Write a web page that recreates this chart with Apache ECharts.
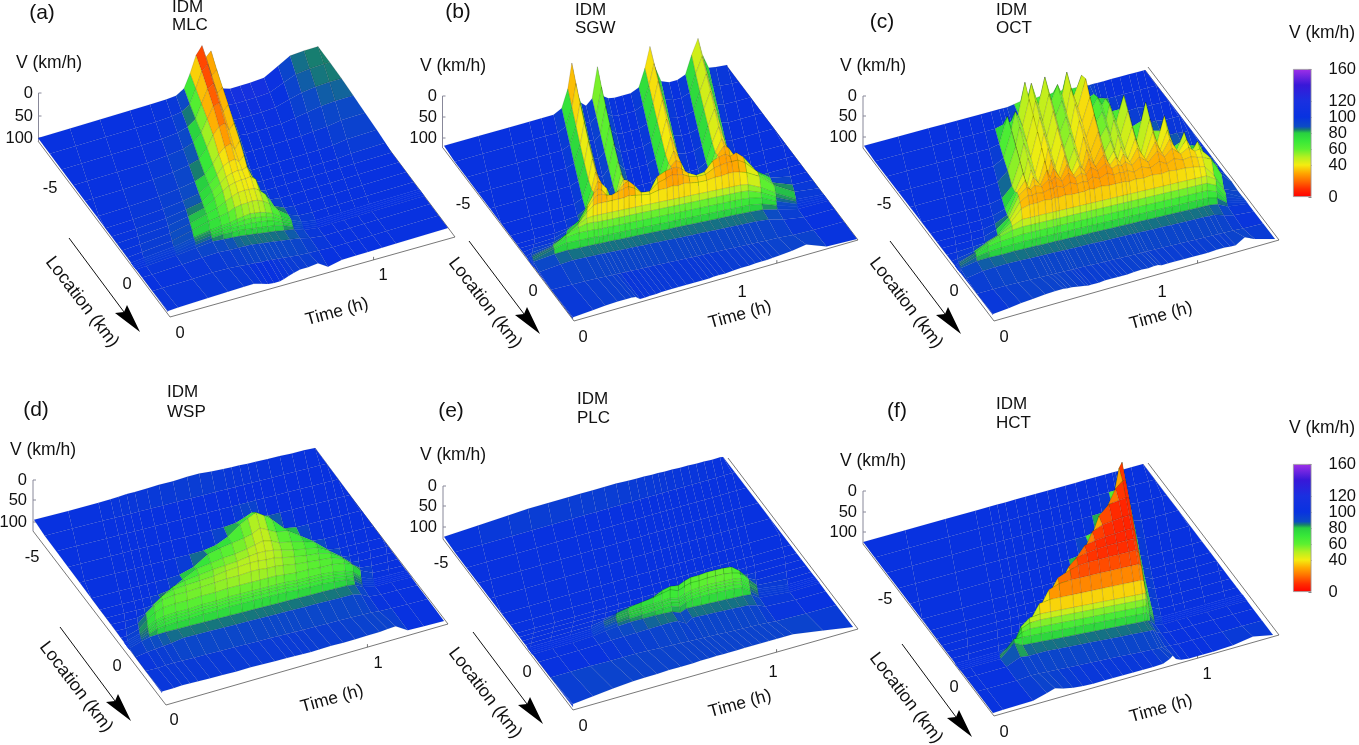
<!DOCTYPE html>
<html><head><meta charset="utf-8"><style>html,body{margin:0;background:#fff}#c{width:1359px;height:745px}</style>
<script src="https://cdn.jsdelivr.net/npm/echarts@6/dist/echarts.min.js"></script></head>
<body><div id="c"></div><script>
const locations=[-6.5,-5.75,-5,-4.25,-3.5,-2.75,-2.2,-1.8,-1.4,-1,-.6,-.3,-.22,-.14,-.06,.02,.4,1,1.8];
const speedTicks=['0','50','100'];
const barTicks=[0,20,40,60,80,100,120,140,160];
const timesA=[-.26,-.1,.05,.2,.3,.38,.43,.47,.5,.53,.56,.58,.605,.63,.66,.7,.75,.8,.87,.94,1,1.07,1.14,1.4];
const speedA=[
[100,100,100,100,100,100,98,88,60,25,8,35,25,70,112,118,118,118,116,100,86,84,84,84],
[100,100,100,100,100,98,95,84,55,22,10,38,28,72,110,112,112,112,110,98,88,85,84,84],
[100,100,100,100,99,96,90,78,50,22,14,38,28,75,104,106,106,106,104,96,90,86,85,85],
[100,100,100,100,97,93,86,70,45,22,18,40,28,78,100,102,102,102,102,98,94,90,88,88],
[100,100,100,98,95,90,84,65,42,28,24,42,30,82,100,100,100,100,100,100,98,96,92,91],
[100,100,99,97,93,88,80,62,46,34,30,46,30,84,100,100,100,100,100,100,100,99,95,94],
[100,100,99,96,92,86,74,58,44,38,36,44,34,78,98,100,100,100,100,100,100,100,98,97],
[100,100,99,96,90,84,68,56,46,42,40,42,38,62,96,100,100,100,100,100,100,100,100,100],
[100,100,98,95,88,80,66,54,46,42,40,40,38,46,80,97,100,100,100,100,100,100,100,100],
[100,100,98,94,86,76,68,58,50,44,42,42,42,48,60,88,98,100,100,100,100,100,100,100],
[100,100,98,93,84,74,68,62,54,50,48,46,46,50,58,74,90,98,100,100,100,100,100,100],
[100,100,98,93,86,80,74,70,64,60,56,56,56,58,62,72,84,94,100,100,100,100,100,100],
[100,100,98,94,87,81,76,72,68,64,62,62,62,64,66,74,85,95,100,100,100,100,100,100],
[100,100,98,94,88,83,78,74,72,70,68,68,68,68,70,76,86,95,100,100,100,100,100,100],
[100,100,98,95,90,85,80,78,76,76,76,76,76,76,76,78,87,96,100,100,100,100,100,100],
[100,100,99,96,92,88,86,85,84,84,84,84,84,84,84,85,88,96,100,100,100,100,100,100],
[100,100,100,98,96,94,92,90,88,87,87,87,87,87,87,87,90,96,100,100,100,100,100,100],
[100,100,100,100,99,99,98,98,97,97,96,96,96,96,96,96,97,98,100,100,100,100,100,100],
[100,98,97,96,95,95,95,100,104,106,106,104,100,97,94,94,92,106,100,100,100,100,100,100]];
const timesB=[-.32,-.15,0,.1,.16,.22,.26,.29,.31,.33,.355,.38,.41,.436,.46,.49,.52,.56,.6,.64,.67,.695,.72,.75,.79,.83,.87,.9,.932,.955,.985,1.02,1.08,1.15,1.25,1.4];
const speedB=[
[100,100,100,100,100,100,92,60,15,65,92,100,90,35,90,98,100,100,100,94,62,25,65,94,100,100,94,62,35,68,94,96,98,100,100,100],
[100,100,100,100,100,100,93,62,20,62,94,100,90,40,90,98,100,100,100,94,62,24,62,95,100,100,95,64,36,66,95,98,100,100,100,100],
[100,100,100,100,100,100,94,64,24,60,95,100,90,42,88,98,100,100,100,95,62,24,60,96,100,100,96,64,35,64,96,99,100,100,100,100],
[100,100,100,100,100,100,95,66,26,60,95,100,90,44,86,99,100,100,100,95,62,26,58,96,100,100,96,64,34,62,96,100,100,100,100,100],
[100,100,100,100,100,100,95,66,28,58,94,100,88,46,84,99,100,100,100,94,60,28,56,96,100,100,95,62,34,60,96,100,100,100,100,100],
[100,100,100,100,100,100,94,64,28,54,90,100,86,46,78,98,100,100,100,92,58,28,52,95,100,100,92,60,34,56,95,100,100,100,100,100],
[100,100,100,100,100,98,90,58,28,44,72,96,80,44,64,92,98,100,98,86,50,30,44,86,98,98,84,54,32,48,84,98,100,100,100,100],
[100,100,100,100,98,92,76,46,28,34,46,72,56,38,42,62,88,92,80,60,38,30,36,62,84,90,70,42,28,34,52,92,100,100,100,100],
[100,100,100,98,92,78,56,38,30,34,46,50,44,34,30,42,56,62,36,30,28,28,34,44,52,50,34,30,28,34,30,42,72,92,100,100],
[100,100,98,96,88,72,50,36,30,30,34,36,32,30,28,34,44,46,34,30,26,28,30,36,40,40,32,30,28,28,28,36,58,84,98,100],
[100,100,96,90,80,62,46,36,34,34,34,34,34,34,32,34,36,38,34,34,32,34,32,34,36,36,34,34,32,32,34,38,50,72,94,100],
[100,100,94,85,70,56,48,46,46,46,46,46,46,46,46,46,46,46,46,46,46,46,46,46,46,46,46,46,46,46,46,48,58,74,95,100],
[100,100,93,82,66,58,54,54,55,55,55,55,55,55,55,55,55,55,55,55,55,55,55,55,55,55,55,55,55,55,55,56,64,78,96,100],
[100,100,92,80,68,64,64,64,65,65,65,65,65,65,65,65,65,65,65,65,65,65,65,65,65,65,65,65,65,65,65,66,70,82,97,100],
[100,100,92,80,74,74,74,74,75,75,75,75,75,75,75,75,75,75,75,75,75,75,75,75,75,75,75,75,75,75,75,75,78,86,98,100],
[100,100,92,86,84,84,84,84,84,84,84,84,84,84,84,84,84,84,84,84,84,84,84,84,84,84,84,84,84,84,84,84,85,90,99,100],
[100,100,96,90,87,87,87,87,87,87,87,87,87,87,87,87,87,87,87,87,87,87,87,87,87,87,87,87,87,87,87,87,88,94,100,100],
[100,100,100,99,98,98,98,98,98,98,98,98,98,98,98,98,98,98,98,98,98,98,98,98,98,98,98,98,98,98,98,98,98,99,100,100],
[100,100,97,94,92,91,91,91,92,98,98,97,97,96,96,96,96,96,96,96,96,95,95,95,94,93,93,92,92,92,91,90,88,84,98,100]];
const timesC=[-.32,-.15,0,.08,.14,.2,.26,.31,.35,.37,.39,.425,.458,.474,.49,.525,.557,.59,.62,.643,.666,.7,.739,.77,.8,.82,.837,.87,.907,.95,.995,1.03,1.067,1.11,1.15,1.18,1.205,1.25,1.3,1.4];
const speedC=[
[100,100,100,100,100,100,100,100,100,100,100,98,96,98,96,98,96,98,96,98,96,98,98,100,100,100,100,100,100,100,100,100,100,100,100,100,100,100,100,100],
[100,100,100,100,100,100,100,100,96,97,94,85,30,62,35,78,30,76,50,72,32,80,45,90,85,96,96,100,100,100,100,100,100,100,100,100,100,100,100,100],
[100,100,100,100,100,100,100,96,50,76,45,76,30,64,36,76,30,74,48,72,30,69,20,76,60,76,66,92,92,99,98,100,100,100,100,100,100,100,100,100],
[100,100,100,100,100,100,100,90,46,74,42,72,28,60,34,74,30,72,46,68,28,64,22,70,55,72,45,80,35,96,90,98,97,100,100,100,100,100,100,100],
[100,100,100,100,100,100,98,82,42,70,40,70,26,58,32,70,28,70,44,64,26,60,22,66,50,68,42,74,32,92,25,80,84,96,96,98,98,100,100,100],
[100,100,100,100,100,100,96,78,38,68,36,68,24,56,28,66,26,66,40,60,24,56,22,62,44,64,38,68,30,84,24,72,25,86,80,92,92,98,100,100],
[100,100,100,100,100,98,92,66,36,62,34,62,24,52,26,60,24,60,36,56,24,52,24,56,40,58,36,62,28,70,24,62,28,72,40,76,72,94,100,100],
[100,100,100,100,100,96,86,50,32,50,30,48,24,40,24,46,24,46,32,44,24,42,24,46,34,46,32,50,28,54,26,50,28,56,36,60,45,80,98,100],
[100,100,100,100,99,92,76,42,30,36,30,36,26,32,24,36,24,36,30,36,24,34,24,36,32,36,30,40,28,42,26,40,28,42,34,44,42,60,92,100],
[100,100,100,98,96,88,66,38,30,32,30,32,28,30,26,32,26,32,30,32,26,32,26,32,30,32,30,36,30,36,28,36,30,36,34,38,40,48,80,98],
[100,100,98,92,82,74,56,36,32,32,32,30,32,30,32,30,32,32,32,30,32,30,32,32,32,32,34,32,34,32,34,32,34,34,36,38,40,60,90,100],
[100,100,95,84,72,62,52,44,44,44,44,44,44,44,44,44,44,44,44,44,44,44,44,44,44,44,44,44,44,44,44,44,44,44,44,44,44,54,84,100],
[100,100,94,80,70,62,56,54,54,54,54,54,54,54,54,54,54,54,54,54,54,54,54,54,54,54,54,54,54,54,54,54,54,54,54,54,54,62,88,100],
[100,100,93,80,72,68,66,64,64,64,64,64,64,64,64,64,64,64,64,64,64,64,64,64,64,64,64,64,64,64,64,64,64,64,64,64,64,70,90,100],
[100,100,92,82,78,76,75,74,74,74,74,74,74,74,74,74,74,74,74,74,74,74,74,74,74,74,74,74,74,74,74,74,74,74,74,74,74,78,92,100],
[100,100,92,86,85,85,84,84,84,84,84,84,84,84,84,84,84,84,84,84,84,84,84,84,84,84,84,84,84,84,84,84,84,84,84,84,84,86,95,100],
[100,100,96,90,88,87,87,87,87,87,87,87,87,87,87,87,87,87,87,87,87,87,87,87,87,87,87,87,87,87,87,87,87,87,87,87,87,92,97,100],
[100,100,100,99,98,98,98,98,98,98,98,98,98,98,98,98,98,98,98,98,98,98,98,98,98,98,98,98,98,98,98,98,98,98,98,98,98,98,99,100],
[100,100,98,95,92,90,88,87,87,88,88,90,92,93,93,93,92,92,92,92,92,91,90,91,90,90,92,92,92,92,92,92,92,91,91,92,92,82,90,100]];
const timesD=[-.32,-.15,0,.06,.1,.14,.18,.24,.3,.37,.44,.5,.56,.62,.66,.7,.74,.78,.84,.9,.96,1.02,1.08,1.12,1.16,1.22,1.3,1.4];
const speedD=[
[100,100,99,98,97,96,96,95,94,94,92,92,94,95,96,96,97,97,98,98,99,99,100,100,100,100,100,100],
[100,100,100,100,100,100,100,100,100,100,100,100,100,100,100,100,100,100,100,100,100,100,100,100,100,100,100,100],
[100,100,100,100,100,100,100,100,100,100,100,100,100,100,100,100,100,100,100,100,100,100,100,100,100,100,100,100],
[100,100,100,100,100,100,100,100,100,100,100,100,100,98,92,85,96,100,100,100,100,100,100,100,100,100,100,100],
[100,100,100,100,100,100,100,100,100,100,99,95,84,66,58,50,60,72,96,100,100,100,100,100,100,100,100,100],
[100,100,100,100,100,100,100,100,98,90,72,66,62,58,54,46,54,62,66,82,98,100,100,100,100,100,100,100],
[100,100,100,100,100,100,100,96,82,68,64,60,58,54,50,46,50,58,62,68,76,96,100,100,100,100,100,100],
[100,100,100,100,100,98,88,72,66,62,58,56,54,50,48,48,50,54,60,64,68,80,98,100,100,100,100,100],
[100,100,100,100,96,84,70,62,60,58,56,52,50,48,48,50,50,54,58,62,64,70,84,98,100,100,100,100],
[100,100,100,96,82,70,62,58,58,56,54,52,52,50,50,52,52,54,58,60,62,64,72,86,98,100,100,100],
[100,100,100,92,78,68,62,60,60,58,58,56,56,56,56,56,56,58,60,60,62,62,66,72,88,99,100,100],
[100,100,98,90,80,72,68,66,66,64,64,62,62,62,62,62,62,62,64,64,64,66,70,76,90,100,100,100],
[100,100,98,90,82,74,70,68,68,66,66,64,64,64,64,64,64,64,66,66,66,68,72,78,92,100,100,100],
[100,100,98,90,82,76,72,70,70,68,68,66,66,66,66,66,66,66,68,68,68,70,74,80,92,100,100,100],
[100,100,98,90,84,78,76,74,74,72,72,70,70,70,70,70,70,70,72,72,72,74,76,82,94,100,100,100],
[100,100,98,90,86,85,84,84,84,84,84,84,84,84,84,84,84,84,84,84,84,84,84,86,95,100,100,100],
[100,100,100,96,94,92,90,86,86,86,86,86,86,86,86,86,86,86,86,86,86,86,86,90,98,100,100,100],
[100,100,100,100,99,98,98,98,98,98,98,98,98,98,98,98,98,98,98,98,98,98,98,98,100,100,100,100],
[100,98,97,96,95,95,95,95,95,95,94,94,94,94,94,94,94,93,92,92,91,90,89,87,86,100,100,100]];
const timesE=[-.32,-.15,0,.1,.2,.3,.36,.42,.48,.54,.6,.64,.68,.72,.75,.78,.82,.86,.9,.94,.98,1.02,1.06,1.1,1.25,1.4];
const speedE=[
[100,97,94,92,92,92,92,92,92,92,93,94,94,95,95,96,96,97,97,98,98,99,99,100,100,100],
[100,100,100,100,100,100,100,100,100,100,100,100,100,100,100,100,100,100,100,100,100,100,100,100,100,100],
[100,100,100,100,100,100,100,100,100,100,100,100,100,100,100,100,100,100,100,100,100,100,100,100,100,100],
[100,100,100,100,100,100,100,100,100,100,100,100,100,100,100,100,100,100,100,100,100,100,100,100,100,100],
[100,100,100,100,100,100,100,100,100,100,100,100,100,100,100,100,100,100,100,100,100,100,100,100,100,100],
[100,100,100,100,100,100,100,100,100,100,100,100,100,100,100,100,100,100,100,100,100,100,100,100,100,100],
[100,100,100,100,100,100,100,100,100,100,100,100,100,100,100,100,100,100,100,100,100,100,100,100,100,100],
[100,100,100,100,100,100,100,100,100,100,100,100,100,100,100,100,98,98,98,98,100,100,100,100,100,100],
[100,100,100,100,100,100,100,100,100,100,96,92,92,94,92,90,88,86,85,85,88,96,100,100,100,100],
[100,100,100,100,100,100,100,98,92,88,82,74,70,72,66,62,62,60,60,60,62,74,92,100,100,100],
[100,100,100,100,100,99,94,86,80,76,72,68,64,70,64,60,60,58,58,58,60,64,80,96,100,100],
[100,100,100,100,100,98,90,84,80,78,76,74,72,76,70,66,64,62,62,62,62,64,76,92,100,100],
[100,100,100,100,100,98,90,84,80,78,76,74,72,76,72,68,66,64,64,64,64,66,78,92,100,100],
[100,100,100,100,100,98,90,85,81,79,77,75,74,78,74,70,68,66,66,66,66,68,80,93,100,100],
[100,100,100,100,100,98,91,86,83,81,79,78,77,82,76,73,71,70,70,70,70,72,82,94,100,100],
[100,100,100,100,100,98,93,89,86,85,84,84,84,90,84,84,84,84,84,84,84,84,85,95,100,100],
[100,100,100,100,100,99,96,94,92,90,88,87,87,96,87,87,87,87,87,87,87,87,91,97,100,100],
[100,100,100,100,100,100,99,98,98,98,98,98,98,98,98,98,98,98,98,98,98,98,98,99,100,100],
[100,97,94,90,86,83,82,82,81,81,81,80,80,80,80,80,80,80,80,80,80,80,80,80,90,100]];
const timesF=[-.36,-.15,.05,.2,.27,.31,.35,.4,.45,.5,.56,.6,.65,.7,.75,.8,.85,.885,.9,.915,.94,.98,1.05,1.1,1.2,1.3,1.4];
const speedF=[
[100,100,100,100,100,100,100,100,100,100,100,100,100,100,100,100,100,100,100,100,100,100,100,100,100,100,100],
[100,100,100,100,100,100,100,100,100,100,100,100,100,100,100,100,100,100,92,100,100,100,100,100,100,100,100],
[100,100,100,100,100,100,100,100,100,100,100,100,100,100,100,100,90,20,10,75,98,100,100,100,100,100,100],
[100,100,100,100,100,100,100,100,100,100,100,100,100,100,96,60,22,10,10,68,96,100,100,100,100,100,100],
[100,100,100,100,100,100,100,100,100,100,100,100,98,80,30,12,10,8,10,62,94,100,100,100,100,100,100],
[100,100,100,100,100,100,100,100,100,100,100,96,60,20,12,10,8,8,12,62,94,100,100,100,100,100,100],
[100,100,100,100,100,100,100,100,100,98,80,40,16,12,10,9,8,8,14,60,92,100,100,100,100,100,100],
[100,100,100,100,100,100,100,100,98,70,30,16,12,10,9,9,9,10,16,60,92,100,100,100,100,100,100],
[100,100,100,100,100,100,100,98,60,28,18,14,12,12,12,12,12,12,20,62,92,100,100,100,100,100,100],
[100,100,100,100,100,100,96,66,30,22,20,20,20,20,20,20,20,20,24,64,92,100,100,100,100,100,100],
[100,100,100,100,100,96,70,36,32,32,32,32,32,32,32,32,32,32,34,66,92,100,100,100,100,100,100],
[100,100,100,100,96,62,48,44,44,44,44,44,44,44,44,44,44,44,44,70,92,100,100,100,100,100,100],
[100,100,100,100,90,62,54,52,52,52,52,52,52,52,52,52,52,52,52,72,92,100,100,100,100,100,100],
[100,100,100,100,80,66,62,62,62,62,62,62,62,62,62,62,62,62,62,76,92,100,100,100,100,100,100],
[100,100,100,100,72,72,72,72,72,72,72,72,72,72,72,72,72,72,72,78,94,100,100,100,100,100,100],
[100,100,100,100,76,84,84,84,84,84,84,84,84,84,84,84,84,84,84,86,96,100,100,100,100,100,100],
[100,100,100,100,88,90,88,87,87,87,87,87,87,87,87,87,87,87,87,92,98,100,100,100,100,100,100],
[100,100,100,100,98,98,98,98,98,98,98,98,98,98,98,98,98,98,98,98,99,100,100,100,100,100,100],
[100,100,99,98,90,85,90,94,96,97,97,97,97,97,97,97,96,90,85,94,98,100,100,100,98,92,100]];
const colorStops=[[0,'#ff0000'],[10,'#ff2c00'],[20,'#ff6c00'],[30,'#ffa800'],[40,'#f4ec10'],[50,'#b4f020'],[60,'#5cf030'],[70,'#38e838'],[80,'#28d040'],[84,'#18806c'],[88,'#0c4cc4'],[100,'#0832e0'],[120,'#1a30e0'],[140,'#3818d8'],[160,'#a030e8']];

const LOC0=-6.5,LOC1=1.8,TMAX=1.4;
const layout=[
{tag:'(a)',model:'MLC',times:timesA,speeds:speedA,L:[38,138],B:[168,312],R:[448,228],floor:[[38,141],[170,317],[455,237],[323,61]],wave:25,zs:.47,wall:[-.77,1.44,-.25,.25],zx:38.5,zy:[93,116,138],lx:33,tagP:[42,13],idm:[172,7,25],vP:[16,63],m5:[50,188],l0:[127,284],t0:[180,333],t1:[383,275],tm:[337,312],lc:[82,302],ar:[69,238,140,332],box:[0,0,460,372]},
{tag:'(b)',model:'SGW',times:timesB,speeds:speedB,L:[443,146],B:[573,319],R:[857,239],floor:[[443,148],[574,321],[858,240],[727,67]],wave:20,zs:.55,wall:[-.75,.6,-.75,-.05],zx:442.5,zy:[96,117,138],lx:437,tagP:[458,12],idm:[575,10,28],vP:[420,66],m5:[463,204],l0:[533,291],t0:[583,337],t1:[742,292],tm:[740,315],lc:[485,303],ar:[469,241,540,334],box:[420,0,460,372]},
{tag:'(c)',model:'OCT',times:timesC,speeds:speedC,L:[863,146],B:[993,315],R:[1275,239],floor:[[863,148],[994,321],[1279,240],[1148,67]],wave:20,zs:.55,wall:[-.3,.28,-.3,.05],zx:863,zy:[96,116,137],lx:857,tagP:[882,22],idm:[996,10,28],vP:[840,66],m5:[884,204],l0:[954,291],t0:[1004,337],t1:[1162,292],tm:[1161,316],lc:[906,303],ar:[890,241,961,334],box:[840,0,450,372]},
{tag:'(d)',model:'WSP',times:timesD,speeds:speedD,L:[33,520],B:[162,693],R:[444,621],floor:[[33,531],[166,705],[448,624],[315,450]],wave:20,zs:.5,wall:[-.32,0,-.32,-.32],zx:33,zy:[480,500,522],lx:27,tagP:[36,410],idm:[167,392,412],vP:[10,450],m5:[32,557],l0:[117,666],t0:[174,720],t1:[378,663],tm:[332,699],lc:[76,687],ar:[60,627,131,721],box:[0,380,460,365]},
{tag:'(e)',model:'PLC',times:timesE,speeds:speedE,L:[443,537],B:[573,707],R:[853,627],floor:[[443,539],[573,710],[858,629],[728,458]],wave:20,zs:.5,wall:[-.94,.52,-.8,-.35],zx:443,zy:[486,506,527],lx:437,tagP:[451,411],idm:[577,399,418],vP:[420,455],m5:[441,563],l0:[527,672],t0:[583,726],t1:[773,672],tm:[740,704],lc:[485,693],ar:[473,632,543,724],box:[420,380,460,365]},
{tag:'(f)',model:'HCT',times:timesF,speeds:speedF,L:[863,542],B:[993,713],R:[1273,635],floor:[[863,544],[994,716],[1279,635],[1148,463]],wave:18,zs:.5,wall:[-.5,.7,-.3,.12],zx:863,zy:[491,512,532],lx:857,tagP:[897,411],idm:[996,404,423],vP:[840,461],m5:[885,599],l0:[954,687],t0:[1004,732],t1:[1207,674],tm:[1161,709],lc:[906,698],ar:[902,644,972,737],box:[840,380,450,365]}
];
const hex=s=>[1,3,5].map(i=>parseInt(s.substr(i,2),16));
function speedColor(v){
  v=Math.max(0,Math.min(160,v));
  for(let k=1;k<colorStops.length;k++){
    if(v<=colorStops[k][0]){
      const [a,ca]=colorStops[k-1],[b,cb]=colorStops[k],f=(v-a)/(b-a),A=hex(ca),B=hex(cb);
      return 'rgb('+A.map((c,i)=>Math.round(c+(B[i]-c)*f)).join(',')+')';
    }
  }
  return colorStops[colorStops.length-1][1];
}
const clamp=(v,a,b)=>Math.max(a,Math.min(b,v));
function project(p,tw,x,V){
  const t=clamp(tw+Math.max(0,-x)/p.wave,0,TMAX);
  const s=clamp(p.wall[0]+p.wall[1]*tw,p.wall[2],p.wall[3]);
  const taper=clamp((x+1.8)/1.5,0,1)*clamp(1.8-x,0,1);
  const a=t/TMAX,b=(x+s*taper-LOC0)/(LOC1-LOC0);
  return [p.L[0]+a*(p.R[0]-p.B[0])+b*(p.B[0]-p.L[0]),
          p.L[1]+a*(p.R[1]-p.B[1])+b*(p.B[1]-p.L[1])-(100-V)*p.zs];
}
const grids=[],xAxes=[],yAxes=[],series=[],graphic=[];
const font=(n)=>n+'px "Liberation Sans",Arial,sans-serif';
function txt(text,x,y,size,opt){
  graphic.push(Object.assign({type:'text',x,y,silent:true,style:{text,font:font(size),fill:'#111',align:(opt&&opt.align)||'center',verticalAlign:'middle'}},opt&&opt.rotation!==undefined?{rotation:opt.rotation}:{}));
}
layout.forEach((p,gi)=>{
  const [bx,by,bw,bh]=p.box;
  grids.push({left:bx,top:by,width:bw,height:bh,containLabel:false});
  xAxes.push({gridIndex:gi,type:'value',show:false,min:bx,max:bx+bw});
  yAxes.push({gridIndex:gi,type:'value',show:false,inverse:true,min:by,max:by+bh});
  series.push({type:'custom',xAxisIndex:gi,yAxisIndex:gi,coordinateSystem:'cartesian2d',z:1,silent:true,animation:false,clip:false,
    data:[[0]],renderItem:(params,api)=>{
      const C=q=>api.coord(q);
      const floor=[p.floor[0],p.floor[1],p.floor[2],p.floor[3]].map(C);
      const kids=[{type:'polyline',shape:{points:floor},style:{stroke:'#555',lineWidth:.8,fill:null}},
        {type:'line',shape:{x1:C([p.zx,p.zy[0]])[0],y1:C([p.zx,p.zy[0]])[1],x2:C([p.zx,p.floor[0][1]])[0],y2:C([p.zx,p.floor[0][1]])[1]},style:{stroke:'#889',lineWidth:1}}];
      p.zy.forEach(y=>{const c=C([p.zx,y]);kids.push({type:'line',shape:{x1:c[0],y1:c[1],x2:c[0]+3,y2:c[1]},style:{stroke:'#889',lineWidth:1}});});
      const f=1/TMAX,tx=p.floor[1][0]+(p.floor[2][0]-p.floor[1][0])*f,ty=p.floor[1][1]+(p.floor[2][1]-p.floor[1][1])*f,c=C([tx,ty]);
      kids.push({type:'line',shape:{x1:c[0],y1:c[1],x2:c[0],y2:c[1]-3},style:{stroke:'#555',lineWidth:.8}});
      return {type:'group',children:kids};
    }});
  const cells=[];
  for(let j=0;j<locations.length-1;j++)for(let i=p.times.length-2;i>=0;i--)cells.push([i,j]);
  series.push({type:'custom',xAxisIndex:gi,yAxisIndex:gi,coordinateSystem:'cartesian2d',z:2,silent:true,animation:false,clip:false,progressive:0,
    encode:{x:0,y:1},data:cells,renderItem:(params,api)=>{
      const i=api.value(0),j=api.value(1),S=p.speeds,T=p.times;
      const v=[S[j][i],S[j][i+1],S[j+1][i+1],S[j+1][i]];
      const P=[project(p,T[i],locations[j],v[0]),project(p,T[i+1],locations[j],v[1]),project(p,T[i+1],locations[j+1],v[2]),project(p,T[i],locations[j+1],v[3])].map(q=>api.coord(q));
      const mean=(v[0]+v[1]+v[2]+v[3])/4,min=Math.min(...v);
      let val=.75*mean+.25*min;
      if(j===locations.length-2)val=Math.max(val,92);
      const col=speedColor(val);
      const gap=locations[j+1]-locations[j];
      const stroke=val>=88?(gap<.2?col:'rgba(0,0,30,.1)'):'rgba(0,0,0,.24)';
      return {type:'polygon',shape:{points:P},style:{fill:col,stroke,lineWidth:.5}};
    }});
  txt(p.tag,p.tagP[0],p.tagP[1],21);
  txt('IDM',p.idm[0],p.idm[1],17,{align:'left'});
  txt(p.model,p.idm[0],p.idm[2],17,{align:'left'});
  txt('V (km/h)',p.vP[0],p.vP[1],17.5,{align:'left'});
  speedTicks.forEach((s,k)=>txt(s,p.lx,p.zy[k],16.5,{align:'right'}));
  txt('-5',p.m5[0],p.m5[1],16.5);
  txt('0',p.l0[0],p.l0[1],16.5);
  txt('0',p.t0[0],p.t0[1],16.5);
  txt('1',p.t1[0],p.t1[1],16.5);
  txt('Time (h)',p.tm[0],p.tm[1],17.5,{rotation:.27});
  txt('Location (km)',p.lc[0],p.lc[1],18,{rotation:-.92});
  const [ax,ay,bx2,by2]=p.ar;
  graphic.push({type:'line',silent:true,shape:{x1:ax,y1:ay,x2:bx2-16,y2:by2-20},style:{stroke:'#111',lineWidth:1}});
  graphic.push({type:'polygon',silent:true,shape:{points:[[bx2,by2],[bx2-25,by2-19],[bx2-16,by2-20],[bx2-13,by2-27]]},style:{fill:'#000'}});
});
[[69,33],[464,428]].forEach(([top,ty],k)=>{
  const gi=layout.length+k;
  grids.push({left:1293,top,width:22,height:128});
  xAxes.push({gridIndex:gi,type:'category',show:false,data:['V']});
  yAxes.push({gridIndex:gi,type:'value',min:0,max:160,interval:20,position:'right',splitLine:{show:false},
    axisLine:{show:false},axisTick:{show:true,inside:true,length:3,lineStyle:{color:'#333',width:.6}},
    axisLabel:{show:true,showMinLabel:true,showMaxLabel:true,hideOverlap:false,margin:17,color:'#111',fontSize:16.5,fontFamily:'"Liberation Sans",Arial,sans-serif',formatter:v=>barTicks.includes(v)?String(v):''}});
  series.push({type:'bar',xAxisIndex:gi,yAxisIndex:gi,data:[160],barWidth:'100%',silent:true,animation:false,z:3,
    itemStyle:{borderColor:'#999',borderWidth:.8,color:new echarts.graphic.LinearGradient(0,1,0,0,colorStops.map(([v,c])=>({offset:v/160,color:c})))}});
  graphic.push({type:'text',x:1322,y:ty,silent:true,style:{text:'V (km/h)',font:font(17.5),fill:'#111',align:'center',verticalAlign:'middle'}});
});
const chart=echarts.init(document.getElementById('c'),null,{renderer:'canvas'});
chart.setOption({animation:false,backgroundColor:'#fff',grid:grids,xAxis:xAxes,yAxis:yAxes,series,graphic:{elements:graphic}});
</script></body></html>
